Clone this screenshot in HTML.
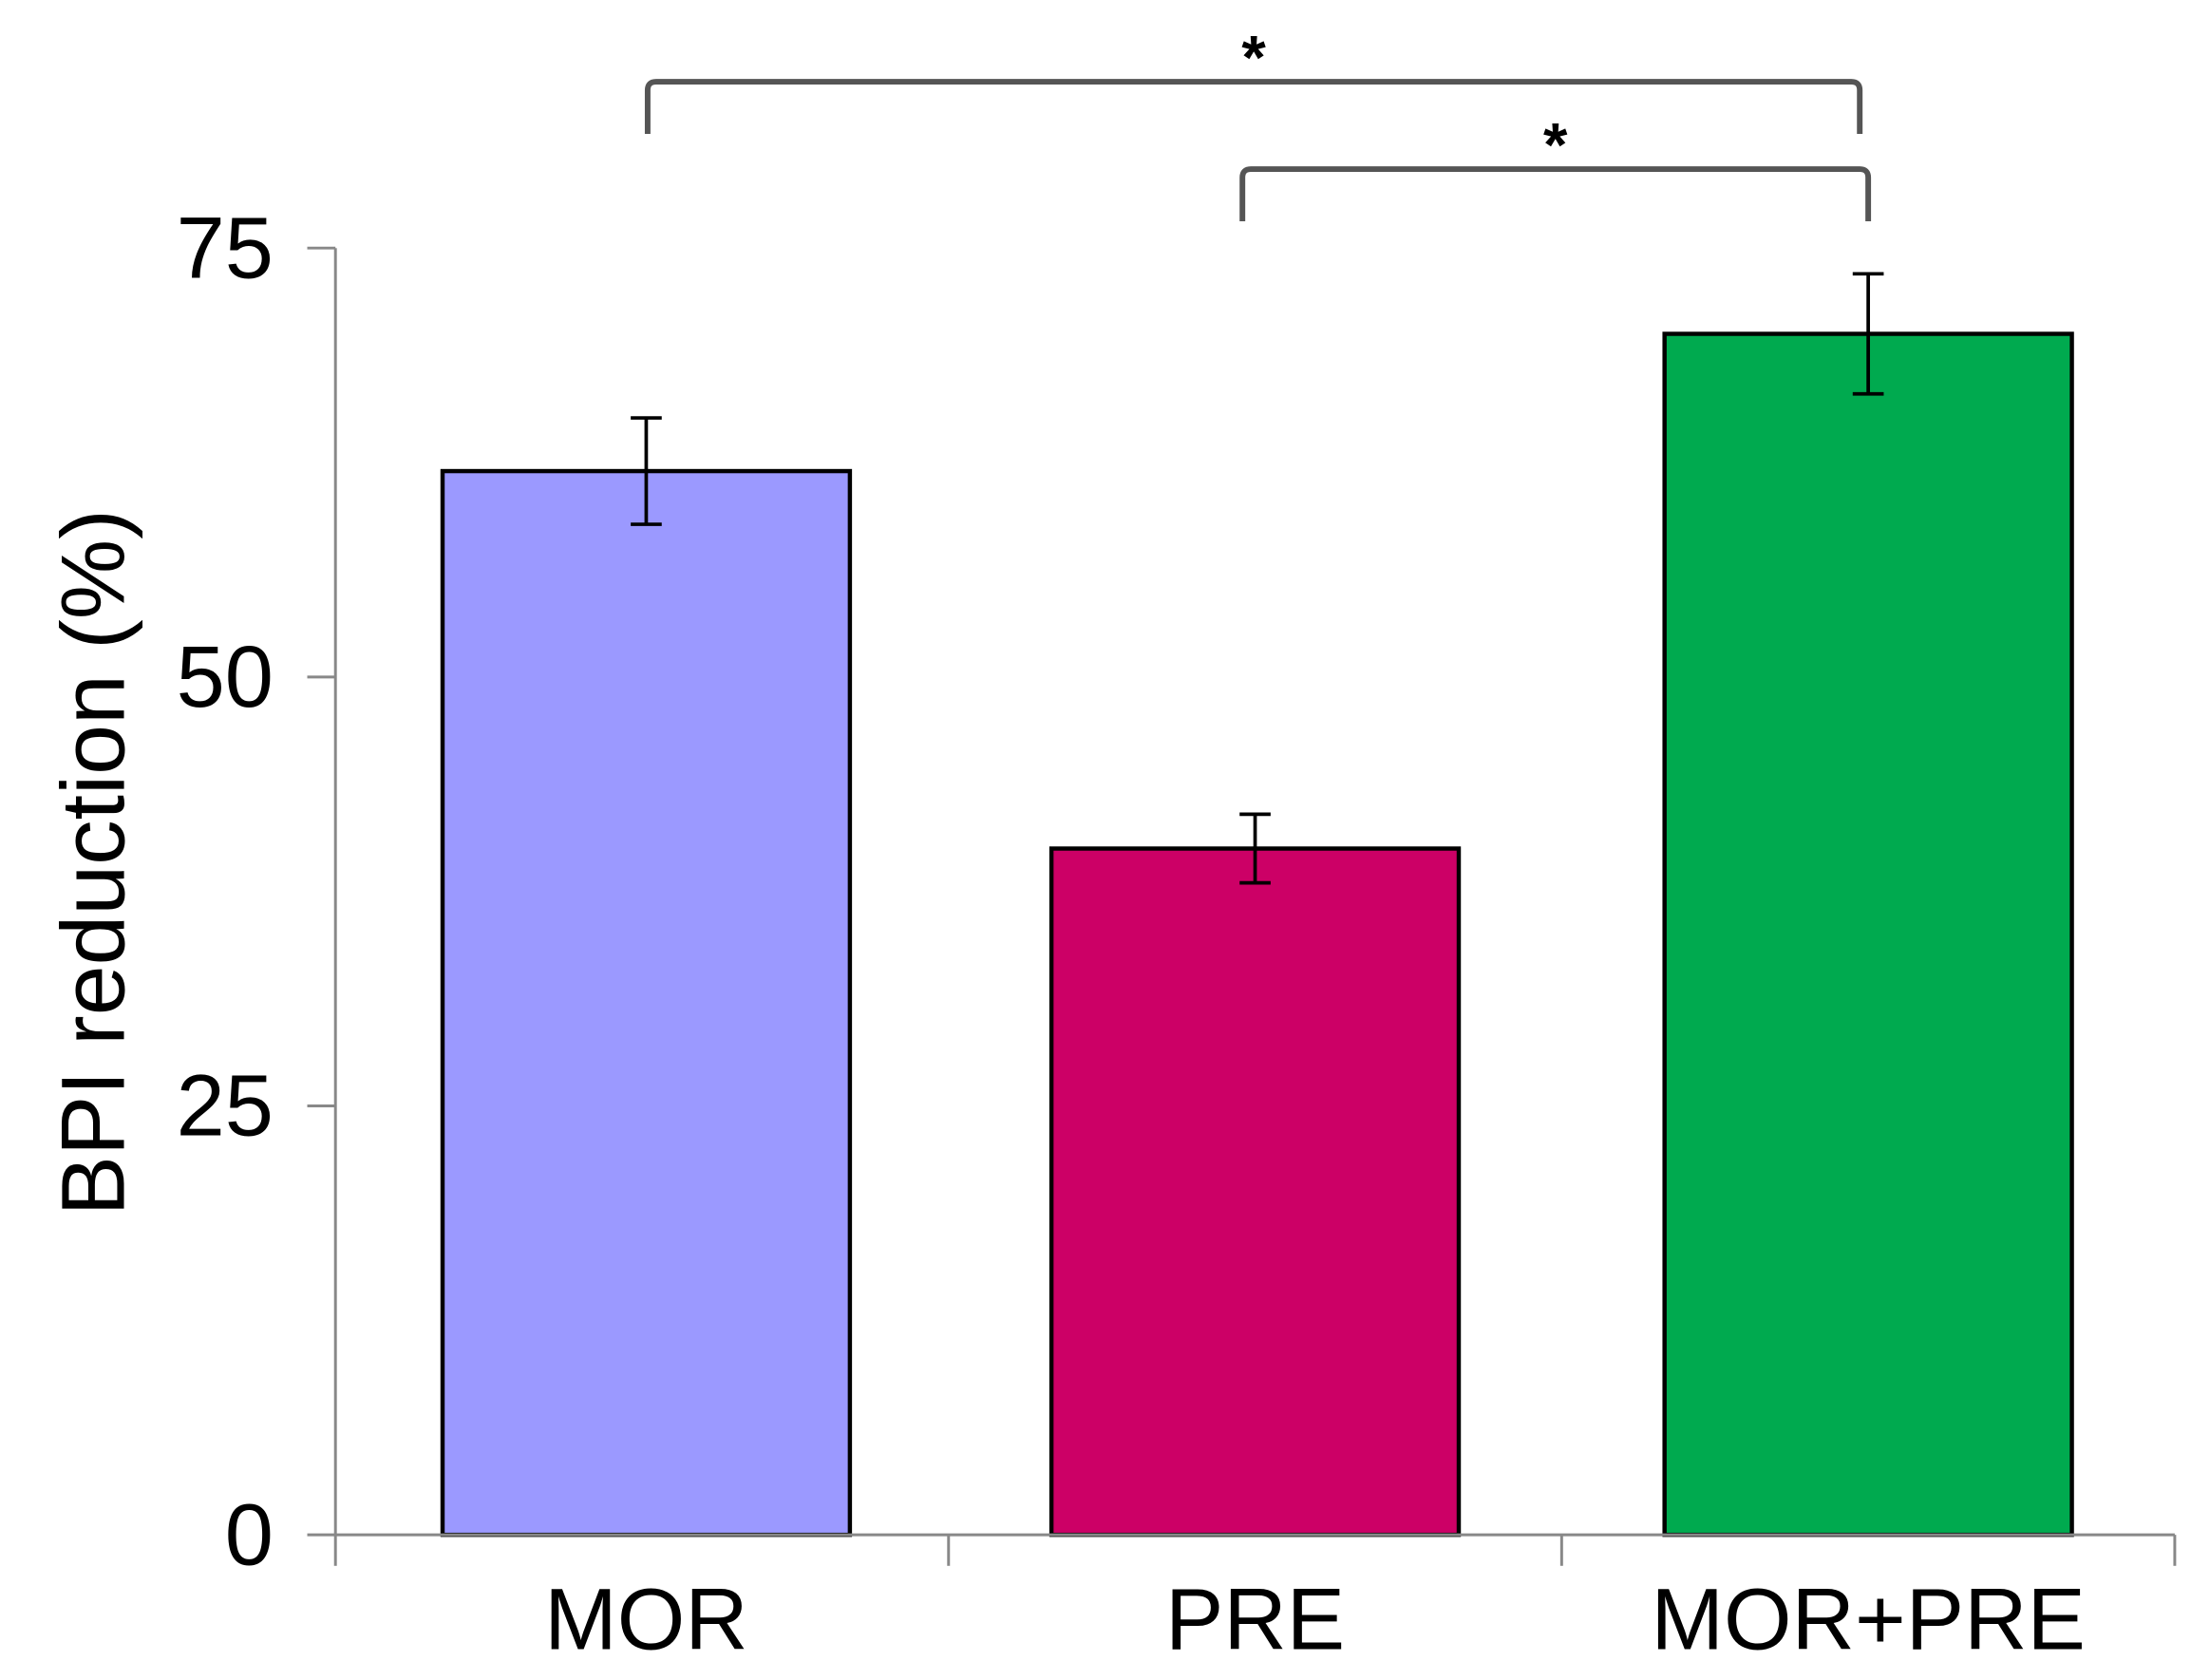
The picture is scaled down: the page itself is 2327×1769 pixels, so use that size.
<!DOCTYPE html>
<html><head><meta charset="utf-8"><style>
html,body{margin:0;padding:0;background:#fff;}
svg{display:block;}
text{font-family:"Liberation Sans",sans-serif;fill:#000;}
</style></head><body>
<svg id="chart" width="2327" height="1769" viewBox="0 0 1568 1192" xmlns="http://www.w3.org/2000/svg">
<rect x="0" y="0" width="1568" height="1192" fill="#fff"/>
<g id="g"></g>
</svg>
<script>
const categories = ["MOR", "PRE", "MOR+PRE"];
const values = [62, 40, 70];
const errors = [3.1, 2.0, 3.5];
const colors = ["#9b99ff", "#cc0066", "#00aa4f"];
const yTicks = [0, 25, 50, 75];
const sigPairs = [[0, 2], [1, 2]];
const sigLabels = ["*", "*"];

const NS = "http://www.w3.org/2000/svg";
const g = document.getElementById("g");
const X0 = 238, X1 = 1543, Y0 = 1089, Y75 = 176;
const yScale = v => Y0 - (v / 75) * (Y0 - Y75);
const bandW = (X1 - X0) / categories.length;
const xCenter = i => X0 + bandW * (i + 0.5) + (i === 0 ? 3 : 0);
const barW = 289;
function el(tag, attrs, parent) {
  const e = document.createElementNS(NS, tag);
  for (const k in attrs) e.setAttribute(k, attrs[k]);
  (parent || g).appendChild(e);
  return e;
}
let ax = el("line", {x1: X0, y1: Y75, x2: X0, y2: Y0, stroke: "#888", "stroke-width": 2});


yTicks.forEach(t => {
  const y = yScale(t);
  const tk = el("line", {x1: X0 - 20, y1: y, x2: X0, y2: y, stroke: "#888", "stroke-width": 2});
  
  
  const tl = el("text", {x: 194, y: y + 21, "font-size": 62, "text-anchor": "end"});
  tl.textContent = t;
  
  
});
const yt = el("text", {x: 0, y: 0, "font-size": 64, "text-anchor": "middle", transform: "translate(88,612) rotate(-90)"});
yt.textContent = "BPI reduction (%)";


categories.forEach((c, i) => {
  const cx = xCenter(i);
  const y = yScale(values[i]);
  const b = el("rect", {x: cx - barW / 2, y: y, width: barW, height: Y0 - y, fill: colors[i], stroke: "#000", "stroke-width": 3});
  
  
  const eh = yScale(values[i] + errors[i]), elo = yScale(values[i] - errors[i]);
  const eb = el("path", {d: `M${cx},${eh}V${elo}M${cx-11},${eh}H${cx+11}M${cx-11},${elo}H${cx+11}`, stroke: "#000", "stroke-width": 2.5, fill: "none"});
  
  
  const xl = el("text", {x: cx, y: 1170, "font-size": 62, "text-anchor": "middle"});
  xl.textContent = c;
  
  
});
let xa = el("line", {x1: X0, y1: Y0, x2: X1, y2: Y0, stroke: "#888", "stroke-width": 2});


for (let i = 0; i <= categories.length; i++) {
  const x = X0 + bandW * i;
  const tk = el("line", {x1: x, y1: Y0, x2: x, y2: Y0 + 22, stroke: "#888", "stroke-width": 2});
  
  
}
const bracketY = [58, 120];
sigPairs.forEach((p, k) => {
  const xa1 = xCenter(p[0]) + (k === 0 ? 1 : -9), xb = xCenter(p[1]) - (k === 0 ? 6 : 0);
  const by = bracketY[k];
  const br = el("path", {d: `M${xa1},${by + 37}V${by + 6}Q${xa1},${by} ${xa1 + 6},${by}H${xb - 6}Q${xb},${by} ${xb},${by + 6}V${by + 37}`, stroke: "#555", "stroke-width": 4, fill: "none"});
  
  
  const st = el("text", {x: (xa1 + xb) / 2, y: by - 2, "font-size": 44, "font-weight": "bold", "text-anchor": "middle"});
  st.textContent = sigLabels[k];
  
  
});
</script>
</body></html>
